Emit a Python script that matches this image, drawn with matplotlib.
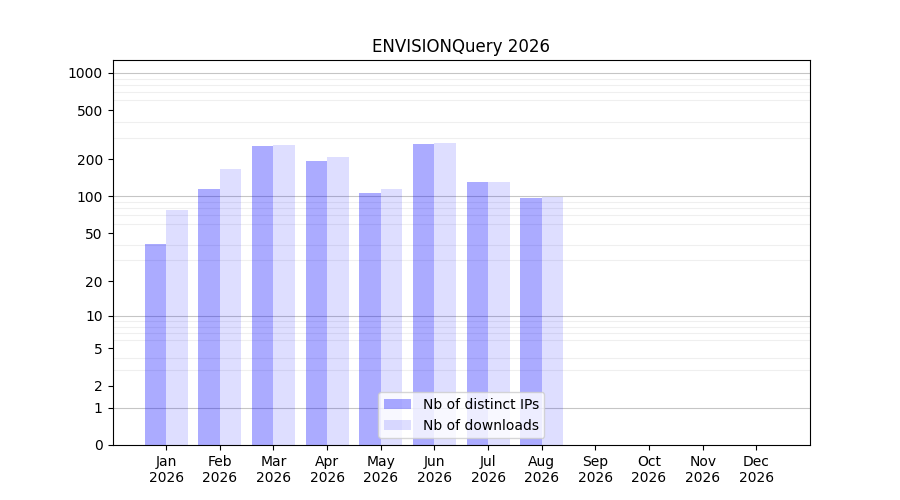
import numpy as np
import matplotlib.pyplot as plt
from matplotlib.ticker import FixedLocator

months = ["Jan", "Feb", "Mar", "Apr", "May", "Jun", "Jul", "Aug", "Sep", "Oct", "Nov", "Dec"]
year = 2026
distinct_ips = [41, 115, 258, 194, 107, 266, 131, 97, 0, 0, 0, 0]
downloads = [78, 167, 263, 209, 115, 272, 131, 99, 0, 0, 0, 0]
ytick_values = [0, 1, 2, 5, 10, 20, 50, 100, 200, 500, 1000]

x = np.arange(len(months))
w = 0.4

fig, ax = plt.subplots(figsize=(9, 5), dpi=100)
ax.bar(x - w / 2, distinct_ips, w, color="blue", alpha=0.33, label="Nb of distinct IPs")
ax.bar(x + w / 2, downloads, w, color="blue", alpha=0.13, label="Nb of downloads")

ax.set_yscale("function", functions=(lambda v: np.log10(np.maximum(v, 0) + 1),
                                     lambda v: 10 ** v - 1))
ax.set_ylim(0, 1270)
ax.set_xlim(-1, 12)

ax.yaxis.set_major_locator(FixedLocator(ytick_values))
ax.set_yticklabels([str(v) for v in ytick_values])
minors = [m * d for d in (1, 10, 100) for m in range(2, 10)]
ax.yaxis.set_minor_locator(FixedLocator(minors))
ax.tick_params(axis="y", which="minor", length=0)
ax.set_axisbelow(True)
for v in (1, 10, 100, 1000):
    ax.axhline(v, color="gray", alpha=0.45, lw=0.8, zorder=0)
ax.grid(axis="y", which="minor", color="gray", alpha=0.12, lw=0.8)

ax.set_xticks(x)
ax.set_xticklabels([f"{m}\n{year}" for m in months])
ax.set_title(f"ENVISIONQuery {year}")
ax.legend(loc="lower center")

plt.savefig("out.png")
